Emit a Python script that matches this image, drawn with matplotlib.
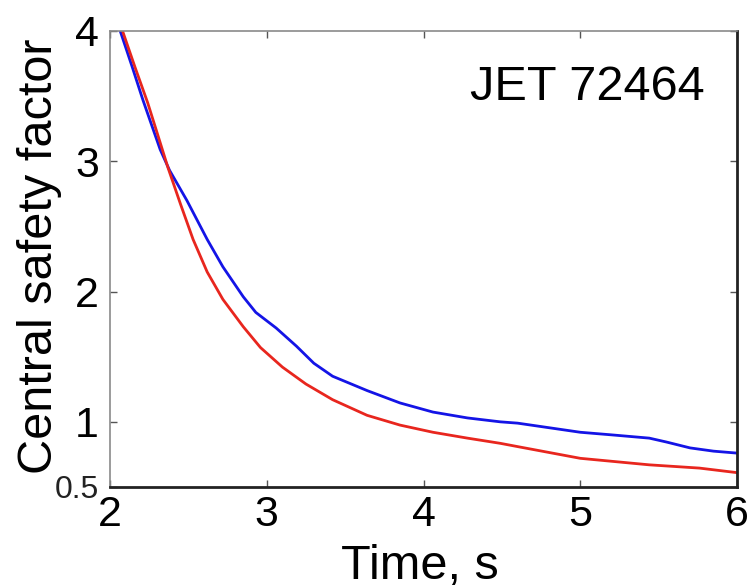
import matplotlib
matplotlib.use("Agg")
import matplotlib.pyplot as plt

plt.rcParams['font.family'] = ['Liberation Sans', 'DejaVu Sans']

# Data
t_red = [2.08, 2.16, 2.24, 2.30, 2.37, 2.45, 2.53, 2.62, 2.72, 2.85, 2.96, 3.10, 3.25,
         3.42, 3.64, 3.85, 4.06, 4.28, 4.49, 4.60, 5.00, 5.44, 5.76, 6.00]
q_red = [4.00, 3.72, 3.45, 3.22, 2.95, 2.67, 2.40, 2.15, 1.94, 1.73, 1.57, 1.42, 1.29,
         1.17, 1.05, 0.975, 0.92, 0.875, 0.835, 0.81, 0.72, 0.67, 0.645, 0.61]

t_blue = [2.065, 2.14, 2.21, 2.32, 2.38, 2.49, 2.62, 2.72, 2.85, 2.93, 3.06, 3.19, 3.30,
          3.42, 3.64, 3.85, 4.06, 4.28, 4.49, 4.60, 4.80, 5.00, 5.20, 5.44, 5.55, 5.70,
          5.85, 6.00]
q_blue = [4.00, 3.73, 3.47, 3.09, 2.93, 2.70, 2.40, 2.19, 1.96, 1.84, 1.72, 1.58, 1.45,
          1.35, 1.24, 1.145, 1.075, 1.03, 1.00, 0.99, 0.955, 0.92, 0.90, 0.875, 0.845, 0.80,
          0.775, 0.76]

x_ticks = [2, 3, 4, 5, 6]
y_ticks = [0.5, 1, 2, 3, 4]
y_tick_labels = ['0.5', '1', '2', '3', '4']

fig = plt.figure(figsize=(7.51, 5.88), dpi=100)
fig.patch.set_facecolor('white')
ax = fig.add_axes([0.1465, 0.1718, 0.8349, 0.7755])

ax.plot(t_blue, q_blue, color='#1414e6', lw=2.0)
ax.plot(t_red, q_red, color='#e8261e', lw=2.0)

ax.set_xlim(2, 6)
ax.set_ylim(0.5, 4)
ax.set_xticks(x_ticks)
ax.set_yticks(y_ticks)
ax.set_yticklabels(y_tick_labels)

ax.tick_params(direction='in', length=5, width=1, colors='#555555',
               top=True, right=True, labelsize=31, labelcolor='black')
ax.tick_params(axis='x', pad=6)
ax.tick_params(axis='y', pad=8)
for lbl in ax.get_yticklabels():
    if lbl.get_text() == '0.5':
        lbl.set_fontsize(23)
        lbl.set_color('#222222')

for side in ['left', 'top']:
    ax.spines[side].set_color('#8a8a8a')
    ax.spines[side].set_linewidth(1.2)
for side in ['bottom', 'right']:
    ax.spines[side].set_color('#222222')
    ax.spines[side].set_linewidth(2.0)

ax.set_xlabel('Time, s', fontsize=35)
ax.xaxis.set_label_coords(0.494, -0.125)
ax.set_ylabel('Central safety factor', fontsize=35)
ax.yaxis.set_label_coords(-0.077, 0.507)

ax.text(0.949, 0.849, 'JET 72464', transform=ax.transAxes, fontsize=35,
        ha='right', va='baseline')

fig.savefig('out.png', dpi=100, facecolor='white')
